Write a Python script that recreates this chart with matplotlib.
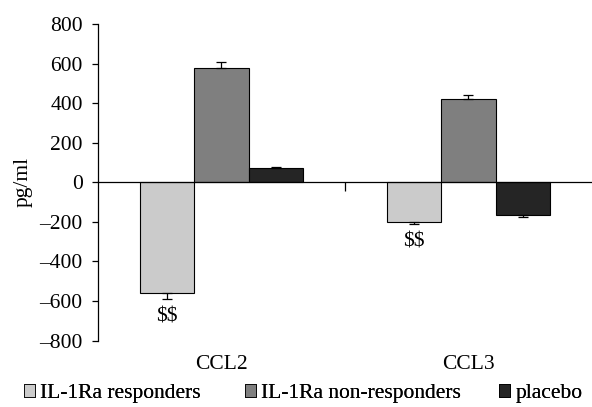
import numpy as np
import matplotlib.pyplot as plt
from matplotlib.patches import Patch

plt.rcParams['font.family'] = ['Liberation Serif', 'DejaVu Serif']

categories = ['CCL2', 'CCL3']
groups = ['IL-1Ra responders', 'IL-1Ra non-responders', 'placebo']
values = {
    'IL-1Ra responders': [-558, -199],
    'IL-1Ra non-responders': [580, 421],
    'placebo': [71, -164],
}
errors = {
    'IL-1Ra responders': [32, 12],
    'IL-1Ra non-responders': [27, 20],
    'placebo': [8, 11],
}
colors = ['#cbcbcb', '#7f7f7f', '#252525']

fig = plt.figure(figsize=(5.92, 4.07), dpi=100)
ax = fig.add_axes([0.1655, 0.163, 0.8345, 0.778])

x = np.arange(len(categories)) + 0.5
w = 0.22
handles = []
for i, g in enumerate(groups):
    v = np.array(values[g])
    e = np.array(errors[g])
    lo = np.where(v < 0, e, 0)
    hi = np.where(v >= 0, e, 0)
    pos = x + (i - 1) * w
    ax.bar(pos, v, w, color=colors[i], edgecolor='black', linewidth=0.8, zorder=2)
    ax.errorbar(pos, v, yerr=[lo, hi], fmt='none', ecolor='black',
                elinewidth=0.9, capsize=3.6, capthick=0.9, zorder=3)
    handles.append(Patch(facecolor=colors[i], edgecolor='black', linewidth=0.6, label=g))

# significance marks under responders bars
resp = values['IL-1Ra responders']
resp_err = errors['IL-1Ra responders']
for k in range(len(categories)):
    ax.text(x[k] - w, resp[k] - resp_err[k] - 40, r'\$\$',
            ha='center', va='top', fontsize=15.5)

ax.set_xlim(0, 2)
ax.set_ylim(-800, 800)
ticks = list(range(-800, 801, 200))
ax.set_yticks(ticks)
ax.set_yticklabels([str(t).replace('-', '\u2013') for t in ticks])
ax.tick_params(axis='y', direction='out', length=4.5, width=0.9, labelsize=15.5, pad=6.5)

ax.spines['top'].set_visible(False)
ax.spines['right'].set_visible(False)
ax.spines['bottom'].set_position(('data', 0))
ax.spines['left'].set_linewidth(0.9)
ax.spines['bottom'].set_linewidth(0.9)
ax.set_xticks([1])
ax.set_xticklabels([''])
ax.tick_params(axis='x', direction='out', length=6.5, width=0.9)

for xi, c in zip(x, categories):
    ax.text(xi, -0.045, c, transform=ax.get_xaxis_transform(), ha='center',
            va='top', fontsize=15.5)

ax.set_ylabel('pg/ml', fontsize=15.5, labelpad=5)

# legend entries placed individually along the bottom
leg_x = [24 / 592, 245 / 592, 499 / 592]
for h, lx in zip(handles, leg_x):
    lg = fig.legend(handles=[h], loc='center left', bbox_to_anchor=(lx, 0.033),
                    frameon=False, fontsize=15.5, handlelength=0.5, handleheight=0.5,
                    handletextpad=0.25, borderpad=0, borderaxespad=0)
    fig.add_artist(lg)

fig.savefig('out.png', dpi=100)
